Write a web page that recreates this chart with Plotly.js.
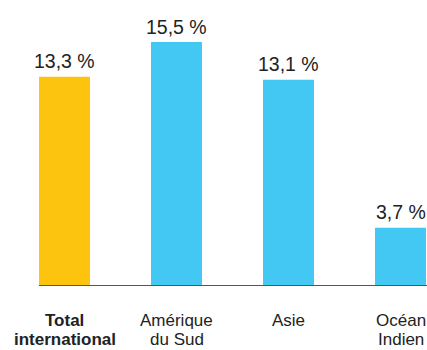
<!DOCTYPE html>
<html><head><meta charset="utf-8">
<script src="https://cdn.plot.ly/plotly-3.0.1.min.js"></script>
<style>html,body{margin:0;padding:0;background:#fff}#c{width:427px;height:350px}</style>
</head><body><div id="c"></div>
<script>
const categories = ["Total international", "Amérique du Sud", "Asie", "Océan Indien"];
const labelLine1 = ["<b>Total</b>", "Amérique", "Asie", "Océan"];
const labelLine2 = ["<b>international</b>", "du Sud", "", "Indien"];
const values = [13.3, 15.5, 13.1, 3.7];
const valueLabels = ["13,3 %", "15,5 %", "13,1 %", "3,7 %"];
const colors = ["#FCC30F", "#42C8F3", "#42C8F3", "#42C8F3"];

const xs = categories.map((c, i) => i);
const barW = 0.455;
const font = "Liberation Sans, Arial, Helvetica, sans-serif";

const annotations = [];
xs.forEach((x, i) => {
  annotations.push({x: x, y: values[i], xref: 'x', yref: 'y', text: valueLabels[i], showarrow: false,
    yanchor: 'bottom', yshift: 3.5, borderpad: 0, font: {family: font, size: 19.5, color: '#222'}});
  annotations.push({x: x, y: 0, xref: 'x', yref: 'y', text: labelLine1[i], showarrow: false,
    yanchor: 'top', yshift: -23.5, borderpad: 0, font: {family: font, size: 17, color: '#222'}});
  if (labelLine2[i]) annotations.push({x: x, y: 0, xref: 'x', yref: 'y', text: labelLine2[i], showarrow: false,
    yanchor: 'top', yshift: -43, borderpad: 0, font: {family: font, size: 17, color: '#222'}});
});

Plotly.newPlot('c', [{
  type: 'bar', x: xs, y: values, width: barW,
  marker: {color: colors, line: {width: 0}},
  hoverinfo: 'none'
}], {
  width: 427, height: 350,
  margin: {l: 0, r: 0, t: 0, b: 64, pad: 0},
  paper_bgcolor: '#fff', plot_bgcolor: '#fff',
  showlegend: false,
  xaxis: {range: [-0.5759, 3.2366], showgrid: false, zeroline: false, showticklabels: false, ticks: '', showline: false, fixedrange: true},
  yaxis: {range: [0, 18.17], showgrid: false, zeroline: false, showticklabels: false, ticks: '', showline: false, fixedrange: true},
  shapes: [{type: 'line', xref: 'x', yref: 'y', x0: -barW / 2, x1: 3.2366, y0: 0, y1: 0,
    line: {color: '#555', width: 2}}],
  annotations: annotations
}, {staticPlot: true, displayModeBar: false});
</script></body></html>
